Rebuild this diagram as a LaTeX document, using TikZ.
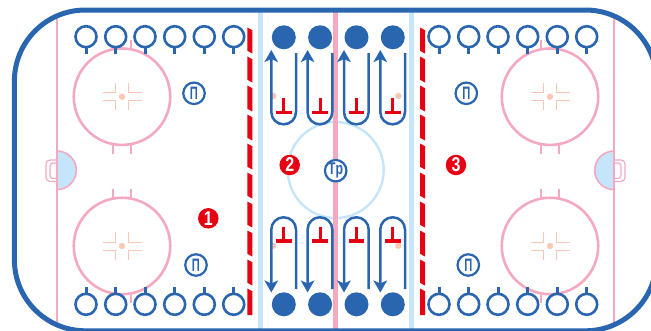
\documentclass[tikz,border=0pt]{standalone}
\usepackage{fontspec}
\usepackage{xcolor}
\setmainfont{Liberation Sans}
\usetikzlibrary{arrows.meta}
\definecolor{rinkblue}{HTML}{2A65AF}
\definecolor{icepink}{HTML}{F4A9C0}
\definecolor{icesky}{HTML}{C5E5FA}
\definecolor{markred}{HTML}{E60012}
\definecolor{peach}{HTML}{F9C8B4}
\tikzset{
    base_node/.style={circle, inner sep=0pt, outer sep=0pt},
    peg/.style={base_node, minimum size=21pt, draw=rinkblue, line width=2.6pt, fill=white},
    peg_stem/.style={draw=rinkblue, line width=3pt},
    disc/.style={base_node, minimum size=24pt, fill=rinkblue},
    tag/.style={base_node, minimum size=21.5pt, draw=rinkblue, line width=2.2pt, fill=white, text=rinkblue, font=\bfseries},
    step_num/.style={base_node, minimum size=20.5pt, fill=markred, text=white, font=\fontsize{20}{20}\selectfont\bfseries},
    spot/.style={base_node, minimum size=6.4pt, fill=peach},
    faceoff/.style={base_node, minimum size=96.5pt, draw=icepink, line width=2.6pt},
    ice_line/.style={line width=4.8pt},
    tick/.style={draw=icepink, line width=2pt},
    cross/.style={draw=peach, line width=1pt},
    lap/.style={-{Stealth[length=12pt, width=13.5pt, inset=3pt]}, draw=rinkblue, line width=2.5pt, rounded corners=12.2pt},
    tee/.style={draw=markred, line width=3.2pt}
}
\begin{document}
\begin{tikzpicture}[x=1pt, y=-1pt]
    \useasboundingbox (0,0) rectangle (651,330);
    \clip (0,0) rectangle (651,330);
    % lines across the ice
    \node[base_node, minimum size=96pt, draw=icesky, line width=2.4pt] (centre) at (335.7,170) {};
    \draw[ice_line, icesky] (260.3,10) -- (260.3,330);
    \draw[ice_line, icesky] (411.7,10) -- (411.7,330);
    \draw[ice_line, icepink] (335.7,10) -- (335.7,330);
    \draw[icepink, line width=1.9pt] (57,16) -- (57,326);
    \draw[icepink, line width=1.9pt] (614,16) -- (614,326);
    % goals and creases
    \draw[icepink, line width=1.2pt, rounded corners=4pt] (57,160) -- (46,160) -- (46,181.5) -- (57,181.5);
    \draw[icepink, line width=1.2pt, rounded corners=3pt] (57,163) -- (50,163) -- (50,178.5) -- (57,178.5);
    \draw[icepink, line width=1.2pt, rounded corners=4pt] (614,160) -- (625,160) -- (625,181.5) -- (614,181.5);
    \draw[icepink, line width=1.2pt, rounded corners=3pt] (614,163) -- (621,163) -- (621,178.5) -- (614,178.5);
    \draw[icepink, fill=icesky, line width=1.6pt] (57,151) arc[start angle=90, end angle=-90, radius=19.3pt] -- cycle;
    \draw[icepink, fill=icesky, line width=1.6pt] (614,151) arc[start angle=90, end angle=270, radius=19.3pt] -- cycle;
    % face-off circles
    \foreach \x/\y/\n in {122/96.7/tl, 122/246/bl, 550/96.7/tr, 550/246/br} {
        \node[faceoff] (circle\n) at (\x,\y) {};
        \node[spot] (dot\n) at (\x,\y) {};
        \foreach \sx in {-1,1} {
            \foreach \sy in {-1,1} {
                \draw[cross] (\x+\sx*6.3,\y+\sy*13.7) -- (\x+\sx*6.3,\y+\sy*4) -- (\x+\sx*19.5,\y+\sy*4);
            }
            \draw[tick] (\x+\sx*8.8,\y-48.5) -- (\x+\sx*8.8,\y-57);
            \draw[tick] (\x+\sx*8.8,\y+48.5) -- (\x+\sx*8.8,\y+57);
        }
    }
    % red lines, ten pieces each
    \foreach \x in {247.3,420} {
        \foreach \y in {27.5,56.5,85.5,114.5,143.5,172.5,201.5,230.5,259.5} {
            \fill[markred] (\x,\y) -- (\x+5,\y+2.7) -- (\x+5,\y+26) -- (\x,\y+23.3) -- cycle;
        }
        \fill[markred] (\x,288.5) -- (\x+5,291.2) -- (\x+5,315) -- (\x,315) -- cycle;
    }
    % pegs along the boards
    \foreach \x [count=\i] in {86,115.7,145,174.7,204.3,233.7,439,468.7,498,527.7,557.3,586.7} {
        \coordinate (stemT\i) at (\x,54);
        \coordinate (stemB\i) at (\x,287);
        \node[peg] (pegT\i) at (\x,36.7) {};
        \node[peg] (pegB\i) at (\x,304.3) {};
        \draw[peg_stem] (pegT\i.south) -- (stemT\i);
        \draw[peg_stem] (pegB\i.north) -- (stemB\i);
    }
    % spots by the laps
    \node[spot] (spotTL) at (273.3,96) {};
    \node[spot] (spotTR) at (398.3,96) {};
    \node[spot] (spotBL) at (273.3,245.7) {};
    \node[spot] (spotBR) at (398.3,245.7) {};
    % laps round the tees
    \foreach \x [count=\i] in {271.3,307.6,344,380.3} {
        \node[disc] (discT\i) at (\x+12.5,37.3) {};
        \node[disc] (discB\i) at (\x+12.5,304.3) {};
        \coordinate (startT\i) at (\x+24.7,53);
        \coordinate (tipT\i) at (\x,50);
        \coordinate (startB\i) at (\x+24.7,289);
        \coordinate (tipB\i) at (\x,292.5);
        \coordinate (turnT\i) at (\x,124.3);
        \coordinate (turnB\i) at (\x,217.3);
        \draw[lap] (startT\i) -- (startT\i |- turnT\i) -- (turnT\i) -- (tipT\i);
        \draw[lap] (startB\i) -- (startB\i |- turnB\i) -- (turnB\i) -- (tipB\i);
        \draw[tee] (\x+12.5,98.3) -- (\x+12.5,112.7);
        \draw[tee] (\x+4.7,112.7) -- (\x+20.3,112.7);
        \draw[tee] (\x+12.5,226.7) -- (\x+12.5,241);
        \draw[tee] (\x+4.7,241) -- (\x+20.3,241);
    }
    % labels
    \node[tag] (coachC) at (335.7,170.7) {\fontsize{17}{17}\selectfont\raisebox{-0.8pt}{\scalebox{0.72}[1]{Tp}}};
    \node[tag] (coachTL) at (194,93.3) {\fontsize{18}{18}\selectfont\scalebox{0.62}[1]{П}};
    \node[tag] (coachBL) at (196,265) {\fontsize{18}{18}\selectfont\scalebox{0.62}[1]{П}};
    \node[tag] (coachTR) at (466.3,93.3) {\fontsize{18}{18}\selectfont\scalebox{0.62}[1]{П}};
    \node[tag] (coachBR) at (468.3,265) {\fontsize{18}{18}\selectfont\scalebox{0.62}[1]{П}};
    \node[step_num] (num1) at (208.3,218.3) {\scalebox{0.8}[1]{1}};
    \node[step_num] (num2) at (289.7,165) {\scalebox{0.8}[1]{2}};
    \node[step_num] (num3) at (456,165) {\scalebox{0.8}[1]{3}};
    % boards
    \draw[rinkblue, line width=5pt, rounded corners=71pt] (14.4,10) rectangle (656.5,330.8);
\end{tikzpicture}
\end{document}
